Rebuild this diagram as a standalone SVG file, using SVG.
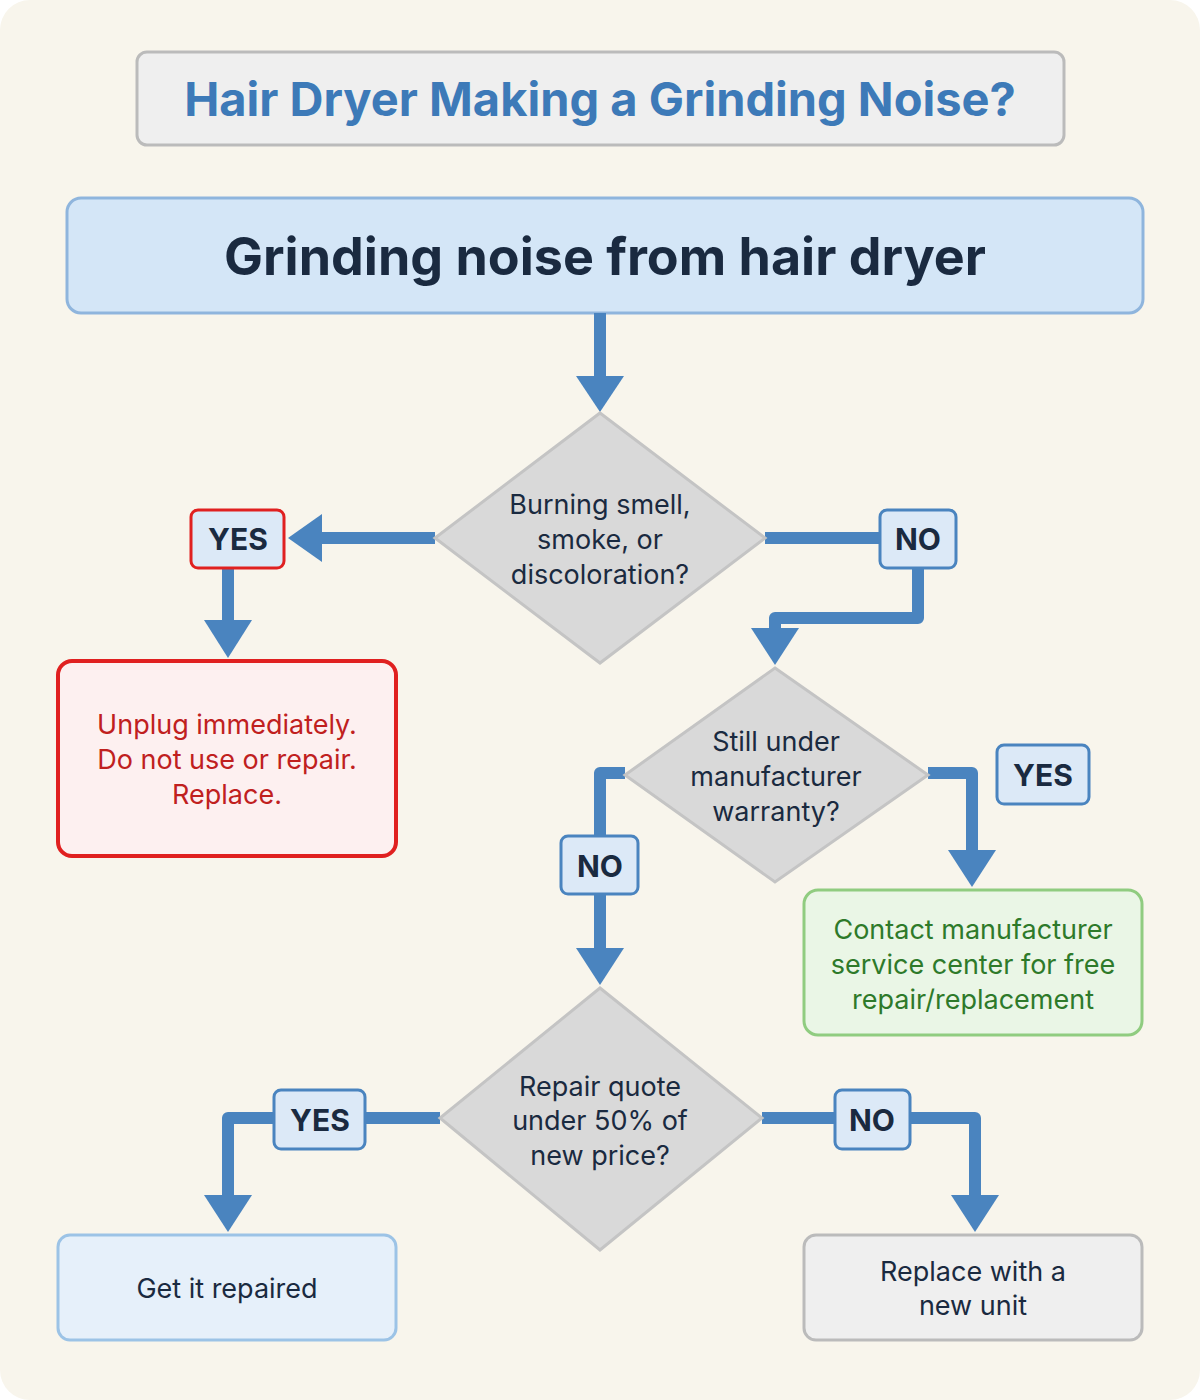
<svg xmlns="http://www.w3.org/2000/svg" width="1200" height="1400" viewBox="0 0 1200 1400">
<style>
text{font-family:"Inter","Liberation Sans",sans-serif;text-anchor:middle}
.ln{fill:none;stroke:#4a84bf;stroke-width:12;stroke-linejoin:round}
.hd{fill:#4a84bf}
.lb rect{fill:#dce9f7;stroke:#4a84bf;stroke-width:3}
.lb text{font-size:30px;font-weight:bold;fill:#1a2a40}
.dm polygon{fill:#d9d9d9;stroke:#c4c4c4;stroke-width:3}
.dm text{font-size:27px;fill:#1a2a40}
</style>
<rect x="0" y="0" width="1200" height="1400" rx="30" fill="#f8f5ec"/>
<g id="title"><rect x="137" y="52" width="927" height="93" rx="10" fill="#efefef" stroke="#bbb" stroke-width="3"/>
<text x="600" y="116" font-size="47" font-weight="bold" fill="#3d7ab8">Hair Dryer Making a Grinding Noise?</text></g>
<g id="start"><rect x="67" y="198" width="1076" height="115" rx="14" fill="#d4e6f7" stroke="#8fb5dd" stroke-width="3"/>
<text x="605" y="275" font-size="52" font-weight="bold" fill="#1a2a40">Grinding noise from hair dryer</text></g>
<g id="connectors">
<path class="ln" d="M600 313V380"/><polygon class="hd" points="576,376 624,376 600,412"/>
<path class="ln" d="M435 538H318"/><polygon class="hd" points="322,514 322,562 288,538"/>
<path class="ln" d="M228 568V624"/><polygon class="hd" points="204,620 252,620 228,658"/>
<path class="ln" d="M765 538H918V618H775V632"/><polygon class="hd" points="751,628 799,628 775,665"/>
<path class="ln" d="M928 773H972V854"/><polygon class="hd" points="948,850 996,850 972,887"/>
<path class="ln" d="M625 773H600V952"/><polygon class="hd" points="576,948 624,948 600,985"/>
<path class="ln" d="M440 1118H228V1199"/><polygon class="hd" points="204,1195 252,1195 228,1232"/>
<path class="ln" d="M762 1118H975V1199"/><polygon class="hd" points="951,1195 999,1195 975,1232"/>
</g>
<g id="d1" class="dm"><polygon points="600,413 765,538 600,663 435,538"/>
<text x="600" y="514">Burning smell,</text><text x="600" y="549">smoke, or</text><text x="600" y="584">discoloration?</text></g>
<g id="yes1" class="lb"><rect x="191" y="510" width="93" height="58" rx="7" style="stroke:#e02020;fill:#dce9f7"/><text x="238" y="550">YES</text></g>
<g id="no1" class="lb"><rect x="880" y="510" width="76" height="58" rx="7"/><text x="918" y="550">NO</text></g>
<g id="danger"><rect x="58" y="661" width="338" height="195" rx="14" fill="#fdf0f0" stroke="#e02020" stroke-width="4"/>
<text x="227" y="734" font-size="27" fill="#c0201e">Unplug immediately.</text><text x="227" y="769" font-size="27" fill="#c0201e">Do not use or repair.</text><text x="227" y="804" font-size="27" fill="#c0201e">Replace.</text></g>
<g id="d2" class="dm"><polygon points="775,668 928,775 775,882 625,775"/>
<text x="776" y="751">Still under</text><text x="776" y="786">manufacturer</text><text x="776" y="821">warranty?</text></g>
<g id="yes2" class="lb"><rect x="997" y="745" width="92" height="59" rx="7"/><text x="1043" y="786">YES</text></g>
<g id="no2" class="lb"><rect x="561" y="836" width="77" height="58" rx="7"/><text x="600" y="877">NO</text></g>
<g id="warranty"><rect x="804" y="890" width="338" height="145" rx="14" fill="#eaf6e6" stroke="#90cc80" stroke-width="3"/>
<text x="973" y="939" font-size="27" fill="#2e7a2a">Contact manufacturer</text><text x="973" y="974" font-size="27" fill="#2e7a2a">service center for free</text><text x="973" y="1009" font-size="27" fill="#2e7a2a">repair/replacement</text></g>
<g id="d3" class="dm"><polygon points="600,988 762,1118 600,1250 440,1118"/>
<text x="600" y="1096">Repair quote</text><text x="600" y="1130">under 50% of</text><text x="600" y="1165">new price?</text></g>
<g id="yes3" class="lb"><rect x="274" y="1090" width="91" height="59" rx="7"/><text x="320" y="1131">YES</text></g>
<g id="no3" class="lb"><rect x="835" y="1090" width="75" height="59" rx="7"/><text x="872" y="1131">NO</text></g>
<g id="repair"><rect x="58" y="1235" width="338" height="105" rx="12" fill="#e6f0fa" stroke="#9cc3e6" stroke-width="3"/>
<text x="227" y="1298" font-size="27" fill="#1a2a40">Get it repaired</text></g>
<g id="replace"><rect x="804" y="1235" width="338" height="105" rx="12" fill="#efefef" stroke="#bbb" stroke-width="3"/>
<text x="973" y="1281" font-size="27" fill="#1a2a40">Replace with a</text><text x="973" y="1315" font-size="27" fill="#1a2a40">new unit</text></g>
</svg>
